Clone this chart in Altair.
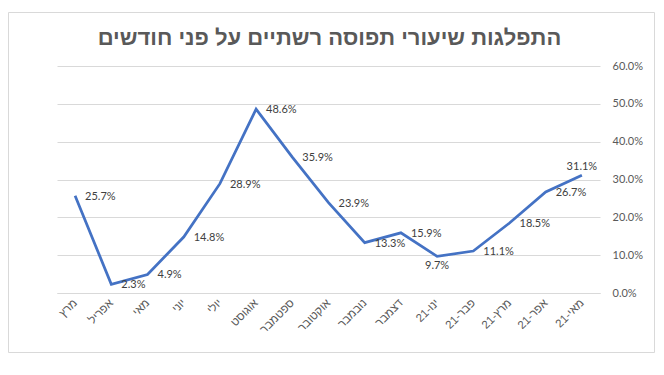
import altair as alt
import pandas as pd

# Data
months = ["מרץ", "אפריל", "מאי", "יוני", "יולי", "אוגוסט", "ספטמבר", "אוקטובר",
          "נובמבר", "דצמבר", "21-ינו", "21-פבר", "21-מרץ", "21-אפר", "21-מאי"]
rates_pct = [25.7, 2.3, 4.9, 14.8, 28.9, 48.6, 35.9, 23.9, 13.3, 15.9, 9.7, 11.1, 18.5, 26.7, 31.1]
label_below = ["21-ינו"]
label_above = ["21-מאי"]
y_ticks = [0.0, 0.1, 0.2, 0.3, 0.4, 0.5, 0.6]
title_text = "התפלגות שיעורי תפוסה רשתיים על פני חודשים"

df = pd.DataFrame({"month": months, "rate": [v / 100 for v in rates_pct]})
df["label"] = [f"{v:.1f}%" for v in rates_pct]

W, H = 543, 227
grey = "#595959"
num_font = "Lato"
heb_font = "Liberation Sans"

x_enc = alt.X("month:N", sort=months,
              scale=alt.Scale(type="point", padding=0.5),
              axis=alt.Axis(title=None, labelAngle=-45, labelAlign="right",
                            labelBaseline="middle", labelPadding=8,
                            labelFont=heb_font, labelFontSize=11.5, labelColor=grey,
                            ticks=False, domain=True, domainColor="#d9d9d9",
                            grid=False, labelOverlap=False))
y_enc = alt.Y("rate:Q", scale=alt.Scale(domain=[0, 0.6], nice=False),
              axis=alt.Axis(title=None, orient="right", values=y_ticks, format=".1%",
                            labelFont=num_font, labelFontSize=11, labelColor=grey,
                            labelPadding=12, ticks=False, domain=False,
                            grid=True, gridColor="#d9d9d9", gridWidth=1))

base = alt.Chart(df)

line = base.mark_line(color="#4472C4", strokeWidth=2.75).encode(x=x_enc, y=y_enc)

special = label_below + label_above
txt_right = base.transform_filter(
    alt.FieldOneOfPredicate(field="month", oneOf=[m for m in months if m not in special])
).mark_text(align="left", baseline="middle", dx=10, dy=1, font=num_font,
            fontSize=11, color="#404040").encode(x=x_enc, y=y_enc, text="label:N")
txt_below = base.transform_filter(
    alt.FieldOneOfPredicate(field="month", oneOf=label_below)
).mark_text(align="center", baseline="middle", dy=10, font=num_font,
            fontSize=11, color="#404040").encode(x=x_enc, y=y_enc, text="label:N")
txt_above = base.transform_filter(
    alt.FieldOneOfPredicate(field="month", oneOf=label_above)
).mark_text(align="center", baseline="middle", dy=-8, font=num_font,
            fontSize=11, color="#404040").encode(x=x_enc, y=y_enc, text="label:N")

one = alt.Chart(pd.DataFrame({"t": [title_text]}))
border = one.mark_rect(fillOpacity=0, stroke="#d9d9d9", strokeWidth=1).encode(
    x=alt.value(-48.5), x2=alt.value(597.5), y=alt.value(-53.5), y2=alt.value(286.5))
title = one.mark_text(align="center", baseline="middle", font=heb_font, fontSize=22,
                      fontWeight="bold", color=grey).encode(
    x=alt.value(W / 2 + 1), y=alt.value(-28), text="t:N")

chart = alt.layer(border, line, txt_right, txt_below, txt_above, title).properties(
    width=W, height=H,
    autosize=alt.AutoSizeParams(type="none"),
    padding={"left": 49, "top": 58, "right": 56, "bottom": 61},
    background="white",
).configure_view(stroke=None)

chart.save("out.html", embed_options={"renderer": "svg", "actions": False})
